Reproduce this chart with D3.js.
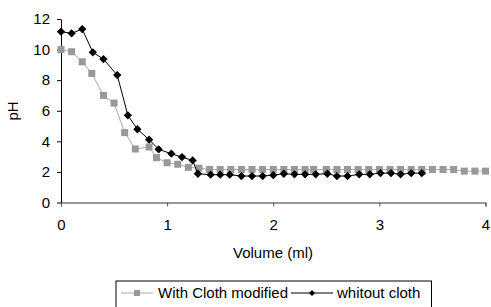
<!DOCTYPE html>
<meta charset="utf-8">
<head>
<style>
  body { margin: 0; background: white; font-family: Arial, "Liberation Sans", sans-serif; }
  svg { display: block; }
  .tick text { font-size: 15px; font-family: Arial, "Liberation Sans", sans-serif; fill: #000; }
</style>
<script src="https://cdn.jsdelivr.net/npm/d3@7"></script>
</head>
<body>
<svg id="chart"></svg>
<script>

// With Cloth modified (grey squares)
let clothX = [0, 0.1, 0.2, 0.29, 0.4, 0.5, 0.6, 0.7, 0.83, 0.9, 1.0, 1.1, 1.2, 1.3,
  1.4, 1.5, 1.6, 1.7, 1.8, 1.9, 2.0, 2.1, 2.2, 2.3, 2.38, 2.5, 2.6, 2.7, 2.8, 2.9,
  3.0, 3.1, 3.2, 3.3, 3.4, 3.5, 3.6, 3.7, 3.8, 3.9, 4.0]
let clothY = [10.0, 9.86, 9.2, 8.44, 7.0, 6.5, 4.57, 3.5, 3.63, 2.93, 2.6, 2.5, 2.3, 2.25,
  2.16, 2.16, 2.16, 2.16, 2.16, 2.16, 2.16, 2.16, 2.16, 2.16, 2.16, 2.16, 2.16, 2.16, 2.16, 2.16,
  2.16, 2.16, 2.16, 2.16, 2.16, 2.16, 2.16, 2.16, 2.05, 2.05, 2.05]

// whitout cloth (black diamonds)
let noClothX = [0, 0.1, 0.2, 0.3, 0.4, 0.53, 0.63, 0.72, 0.83, 0.92, 1.04, 1.14, 1.24, 1.29,
  1.41, 1.5, 1.59, 1.7, 1.8, 1.9, 2.0, 2.1, 2.2, 2.3, 2.4, 2.51, 2.6, 2.7, 2.81, 2.91,
  3.01, 3.11, 3.2, 3.3, 3.4]
let noClothY = [11.17, 11.06, 11.34, 9.82, 9.38, 8.33, 5.7, 4.79, 4.11, 3.48, 3.19, 2.97, 2.75, 1.88,
  1.82, 1.82, 1.82, 1.73, 1.73, 1.73, 1.79, 1.88, 1.84, 1.84, 1.84, 1.88, 1.73, 1.73, 1.84, 1.84,
  1.92, 1.92, 1.84, 1.92, 1.92]

let xTicks = [0, 1, 2, 3, 4]
let yTicks = [0, 2, 4, 6, 8, 10, 12]

let seriesNames = ["With Cloth modified", "whitout cloth"]

let width = 491, height = 307
let margin = {top: 19, right: 6, bottom: 105, left: 61}

let svg = d3.select("#chart").attr("width", width).attr("height", height)

let x = d3.scaleLinear().domain([0, 4]).range([margin.left, 485.5])
let y = d3.scaleLinear().domain([0, 12]).range([202.5, margin.top])

// axes
let xAxis = svg.append("g")
  .attr("transform", `translate(0,${y(0)})`)
  .call(d3.axisBottom(x).tickValues(xTicks).tickSize(4).tickPadding(13).tickFormat(d3.format("d")))
xAxis.select(".domain").attr("stroke", "#333")
xAxis.selectAll(".tick line").attr("stroke", "#555")

let yAxis = svg.append("g")
  .attr("transform", `translate(${x(0)},0)`)
  .call(d3.axisLeft(y).tickValues(yTicks).tickSize(4).tickPadding(7).tickSizeOuter(0))
yAxis.select(".domain").attr("stroke", "#000")
yAxis.selectAll(".tick line").attr("stroke", "#000")

// axis titles
svg.append("text")
  .attr("x", 273).attr("y", 258)
  .attr("text-anchor", "middle")
  .style("font-size", "15px")
  .text("Volume (ml)")

svg.append("text")
  .attr("transform", `translate(17.5,111) rotate(-90)`)
  .attr("text-anchor", "middle")
  .style("font-size", "15px")
  .text("pH")

let line = d3.line().x(d => x(d[0])).y(d => y(d[1]))

let cloth = clothX.map((v, i) => [v, clothY[i]])
let noCloth = noClothX.map((v, i) => [v, noClothY[i]])

svg.append("path")
  .datum(cloth)
  .attr("d", line)
  .attr("fill", "none")
  .attr("stroke", "#aaa")
  .attr("stroke-width", 1)

svg.selectAll(".sq")
  .data(cloth)
  .enter().append("rect")
  .attr("x", d => x(d[0]) - 3.5)
  .attr("y", d => y(d[1]) - 3.5)
  .attr("width", 7).attr("height", 7)
  .attr("fill", "#999")

svg.append("path")
  .datum(noCloth)
  .attr("d", line)
  .attr("fill", "none")
  .attr("stroke", "#000")
  .attr("stroke-width", 1)

let diamond = d3.symbol().type(d3.symbolDiamond2).size(44)
svg.selectAll(".dm")
  .data(noCloth)
  .enter().append("path")
  .attr("transform", d => `translate(${x(d[0])},${y(d[1])})`)
  .attr("d", diamond)
  .attr("fill", "#000")

// legend
let lg = svg.append("g")
lg.append("rect")
  .attr("x", 116).attr("y", 281)
  .attr("width", 315.5).attr("height", 30)
  .attr("fill", "white").attr("stroke", "#000").attr("stroke-width", 1)

lg.append("line").attr("x1", 121).attr("x2", 153).attr("y1", 293).attr("y2", 293)
  .attr("stroke", "#aaa")
lg.append("rect").attr("x", 134).attr("y", 290).attr("width", 6).attr("height", 6).attr("fill", "#999")
lg.append("text").attr("x", 158).attr("y", 298).style("font-size", "15px").text(seriesNames[0])

lg.append("line").attr("x1", 291).attr("x2", 333).attr("y1", 293).attr("y2", 293)
  .attr("stroke", "#000")
lg.append("path").attr("transform", "translate(312,293)")
  .attr("d", d3.symbol().type(d3.symbolDiamond2).size(24)).attr("fill", "#000")
lg.append("text").attr("x", 337).attr("y", 298).style("font-size", "15px").text(seriesNames[1])

</script>
</body>
